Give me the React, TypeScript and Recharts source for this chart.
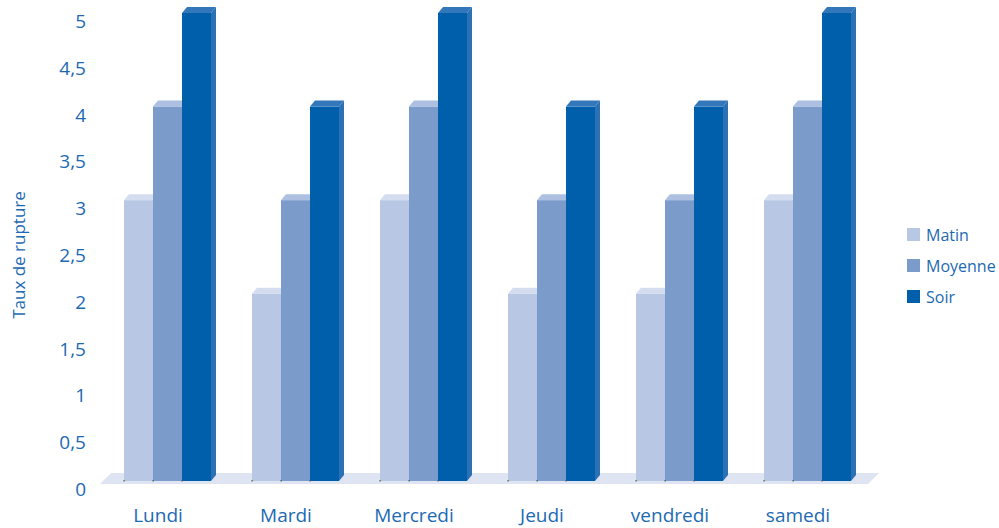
import React from 'react'
import * as Recharts from 'recharts'
import { BarChart, Bar, XAxis, YAxis } from 'recharts'

const DAYS = ['Lundi', 'Mardi', 'Mercredi', 'Jeudi', 'vendredi', 'samedi']
const MATIN = [3, 2, 3, 2, 2, 3]
const MOYENNE = [4, 3, 4, 3, 3, 4]
const SOIR = [5, 4, 5, 4, 4, 5]
const Y_TICKS = [0, 0.5, 1, 1.5, 2, 2.5, 3, 3.5, 4, 4.5, 5]

const TEXT = '#1d6ab3'
const FONT = '"Open Sans", sans-serif'

const SERIES = [
  { key: 'Matin', front: '#b8c7e4', top: '#d4ddef', side: '#c5d2ea' },
  { key: 'Moyenne', front: '#7b9bcb', top: '#adc0e2', side: '#8eaad4' },
  { key: 'Soir', front: '#005faa', top: '#3377bb', side: '#2c70b6' },
]

const data = DAYS.map((day, i) => ({
  day,
  Matin: MATIN[i],
  Moyenne: MOYENNE[i],
  Soir: SOIR[i],
}))

// depth of the fake 3D extrusion
const DX = 5
const DY = 6

function make3DBar(colors: { front: string; top: string; side: string }) {
  return (props: any) => {
    const { x, y, width: w, height: h } = props
    if (!h || h <= 0) return <g />
    return (
      <g>
        <polygon
          points={`${x + w},${y} ${x + w + DX},${y - DY} ${x + w + DX},${y + h - DY} ${x + w},${y + h}`}
          fill={colors.side}
        />
        <polygon
          points={`${x},${y} ${x + DX},${y - DY} ${x + w + DX},${y - DY} ${x + w},${y}`}
          fill={colors.top}
        />
        <rect x={x} y={y} width={w} height={h} fill={colors.front} />
        <rect x={x - 0.5} y={y + h - 1} width={1.2} height={1.5} fill="#555" />
      </g>
    )
  }
}

// floor slab under the bars, following the plot area
function Floor() {
  const usePlotArea = (Recharts as any).usePlotArea
  const area = usePlotArea ? usePlotArea() : null
  if (!area) return null
  const left = area.x - 3
  const right = area.x + area.width - 3
  const bottom = area.y + area.height + 3
  const depth = 11
  return (
    <polygon
      points={`${left},${bottom} ${left + depth},${bottom - depth} ${right + depth},${bottom - depth} ${right},${bottom}`}
      fill="#dfe4f2"
    />
  )
}

const YTick = (props: any) => {
  const { x, y, payload } = props
  return (
    <text x={x} y={y + 8} textAnchor="end" dominantBaseline="central" fill={TEXT} fontSize={19} fontFamily={FONT}>
      {String(payload.value).replace('.', ',')}
    </text>
  )
}

const XTick = (props: any) => {
  const { x, y, payload } = props
  return (
    <text x={x - 9} y={y + 26} textAnchor="middle" dominantBaseline="central" fill={TEXT} fontSize={19} fontFamily={FONT}>
      {payload.value}
    </text>
  )
}

const LegendBox = () => (
  <div
    style={{
      position: 'absolute',
      left: 907,
      top: 219,
      fontFamily: FONT,
      fontSize: 16,
      color: TEXT,
    }}
  >
    {SERIES.map((s) => (
      <div key={s.key} style={{ display: 'flex', alignItems: 'center', height: 31 }}>
        <span style={{ display: 'inline-block', width: 13, height: 13, background: s.front, marginRight: 6 }} />
        <span>{s.key}</span>
      </div>
    ))}
  </div>
)

export default function App() {
  return (
    <div style={{ position: 'absolute', left: 0, top: 0, width: 999, height: 528, background: '#fff' }}>
      <BarChart
        width={999}
        height={528}
        data={data}
        margin={{ top: 13, right: 128, bottom: 0, left: 0 }}
        barGap={0}
        barSize={29}
      >
        <Floor />
        <XAxis dataKey="day" axisLine={false} tickLine={false} tick={<XTick />} interval={0} height={47} />
        <YAxis
          width={103}
          domain={[0, 5]}
          ticks={Y_TICKS}
          axisLine={false}
          tickLine={false}
          tickSize={0}
          tickMargin={17}
          tick={<YTick />}
          label={{
            content: (p: any) => {
              const vb = p.viewBox
              const cx = 18
              const cy = vb.y + vb.height / 2 + 8
              return (
                <text
                  x={cx}
                  y={cy}
                  transform={`rotate(-90, ${cx}, ${cy})`}
                  textAnchor="middle"
                  dominantBaseline="central"
                  fill={TEXT}
                  fontSize={17}
                  fontFamily={FONT}
                >
                  Taux de rupture
                </text>
              )
            },
          }}
        />
        {SERIES.map((s) => (
          <Bar key={s.key} dataKey={s.key} isAnimationActive={false} shape={make3DBar(s)} />
        ))}
      </BarChart>
      <LegendBox />
    </div>
  )
}
